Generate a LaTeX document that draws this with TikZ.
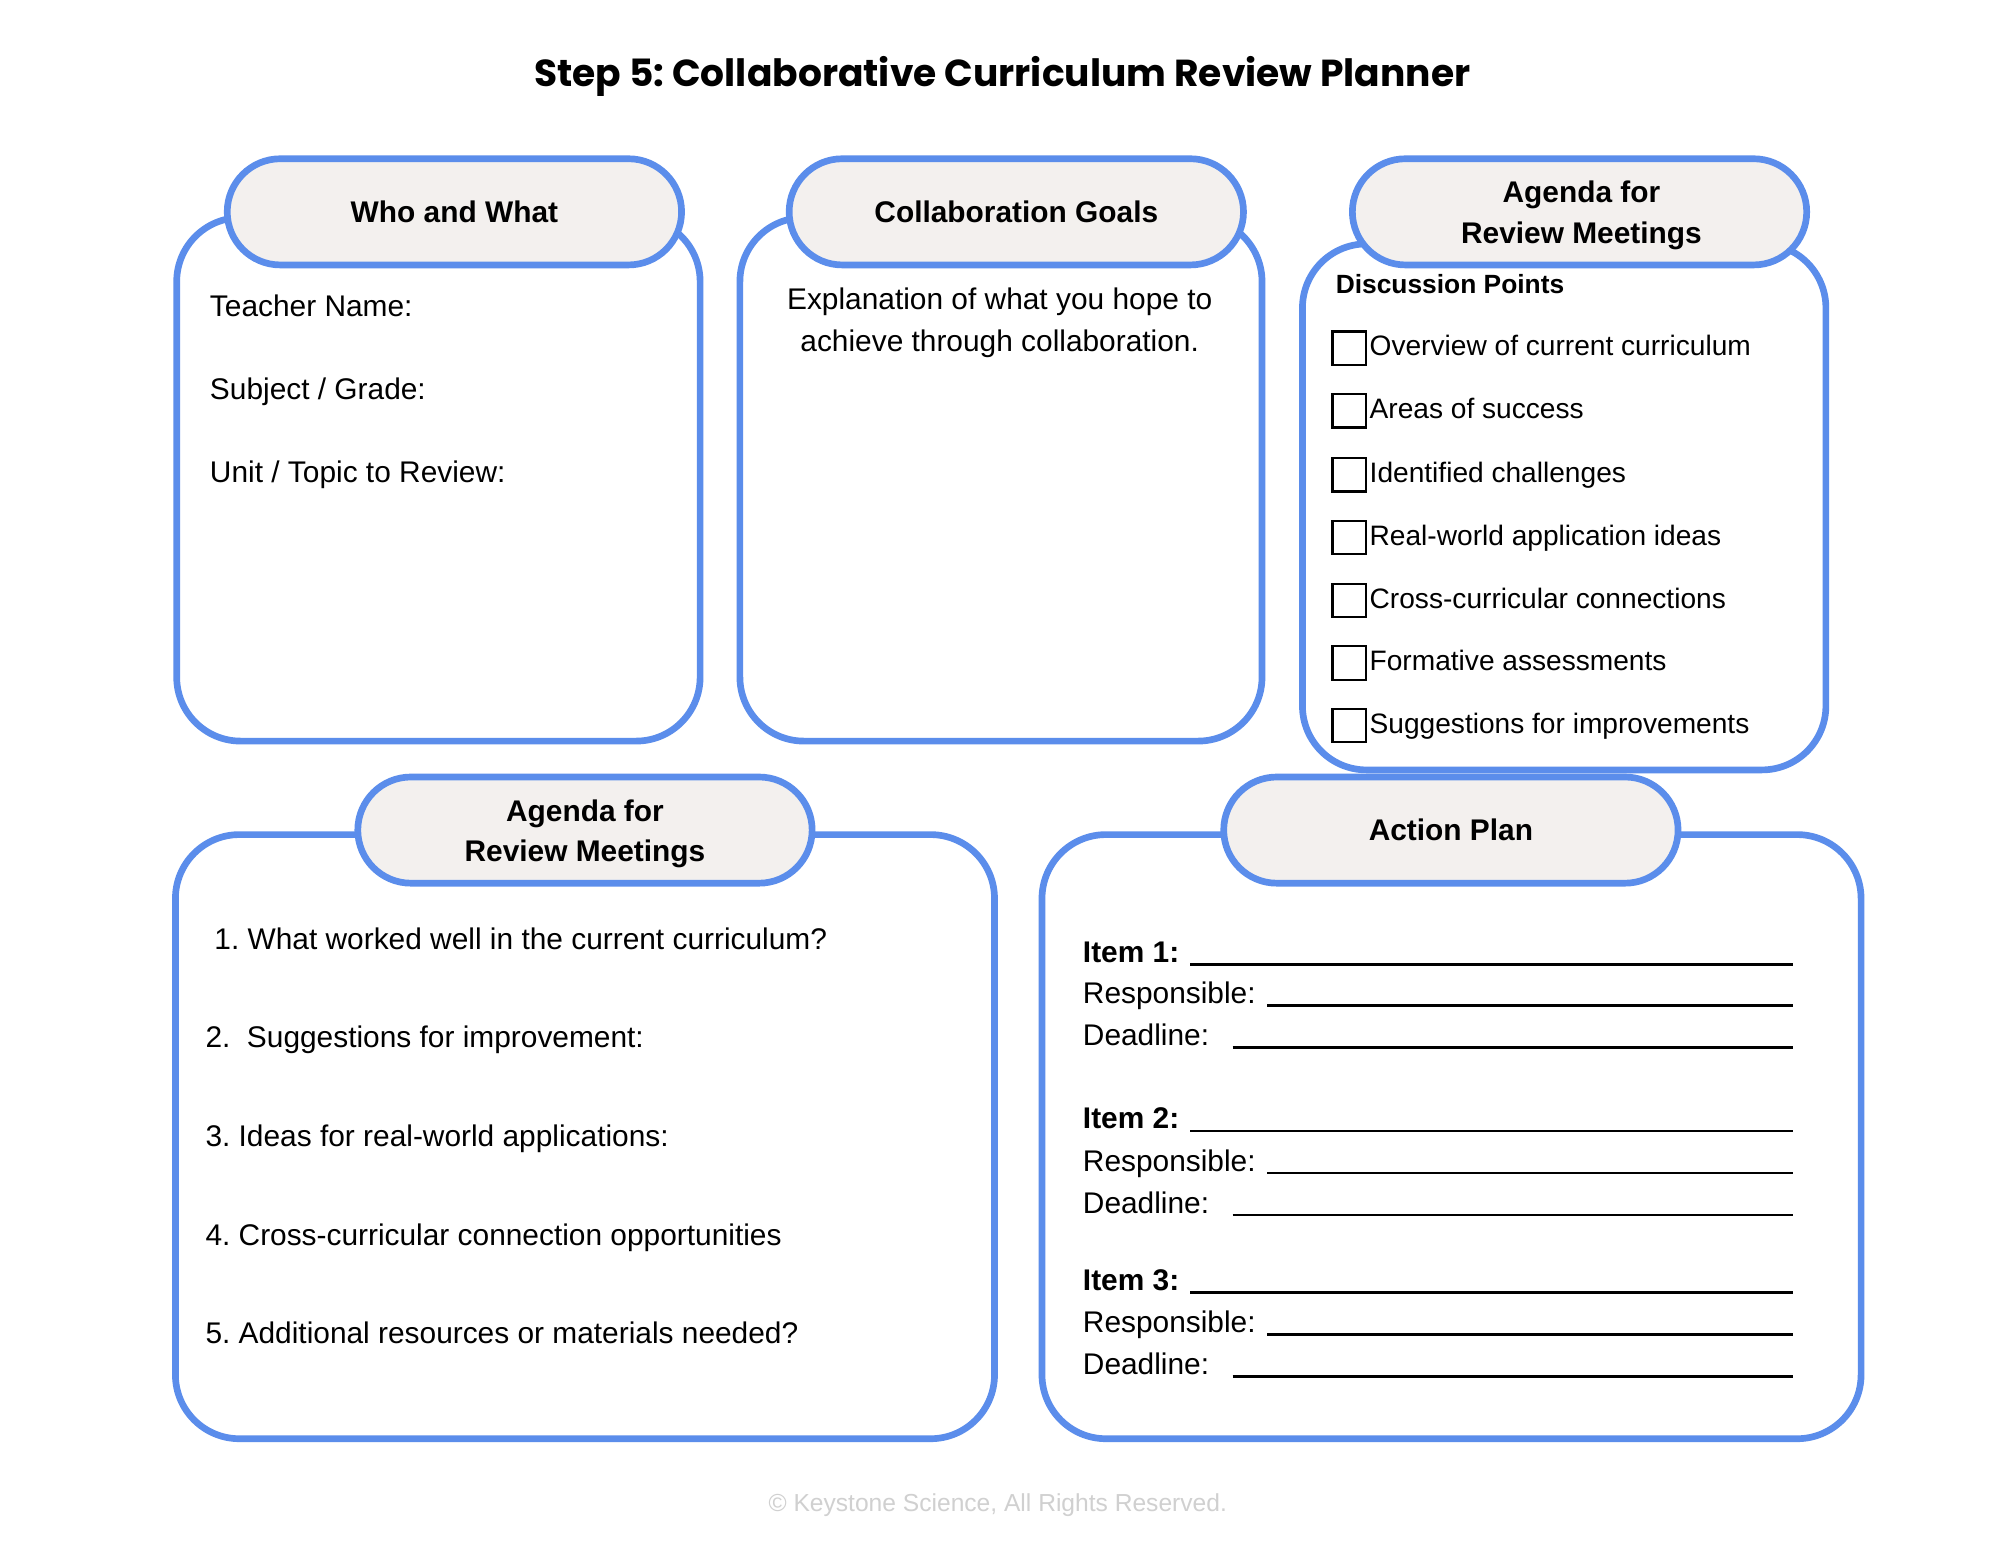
\documentclass[tikz,border=0pt]{standalone}
\usepackage{fontspec}
\setmainfont{Liberation Sans}
\newfontfamily\titlefont{Poppins}
\usepackage{tikz}
\usetikzlibrary{shapes.misc}
\definecolor{boxblue}{HTML}{5B8DEB}
\definecolor{headfill}{HTML}{F3F0EE}
\definecolor{footgray}{HTML}{D0D0D0}
\frenchspacing

\begin{document}
\begin{tikzpicture}[x=0.0128cm,y=-0.0128cm,
		box_style/.style={draw=boxblue,line width=1.9pt,fill=white,rounded corners=0.64cm,inner sep=0pt},
		head_style/.style={rounded rectangle,draw=boxblue,line width=1.9pt,fill=headfill,minimum width=4.544cm,minimum height=1.062cm,align=center,inner sep=0pt,font=\fontsize{8.5}{11.6}\selectfont\bfseries},
		head_text/.style={align=center,inner sep=0pt,font=\fontsize{8.5}{11.6}\selectfont\bfseries},
		text_style/.style={anchor=base west,inner sep=0pt,font=\fontsize{8.5}{10}\selectfont},
		item_style/.style={anchor=base west,inner sep=0pt,font=\fontsize{8}{10}\selectfont},
		check_style/.style={draw=black,line width=0.6pt,minimum size=0.333cm,inner sep=0pt},
		blank_style/.style={draw=black,line width=0.8pt}]

		\useasboundingbox[fill=white] (0,0) rectangle (1562.5,1207);

		\node[anchor=base,inner sep=0pt,font=\titlefont\fontsize{10.7}{12}\selectfont\bfseries] (title) at (783,67.7) {Step 5: Collaborative Curriculum Review Planner};

		% boxes
		\node[box_style,minimum width=5.235cm,minimum height=5.235cm] (who) at (342.5,374.5) {};
		\node[box_style,minimum width=5.222cm,minimum height=5.235cm] (goals) at (782,374.5) {};
		\node[box_style,minimum width=5.235cm,minimum height=5.261cm] (agendaA) at (1222,396) {};
		\node[box_style,minimum width=8.192cm,minimum height=6.042cm] (agendaB) at (457,888) {};
		\node[box_style,minimum width=8.192cm,minimum height=6.042cm] (action) at (1134,888) {};

		% headers
		\node[head_style] (who_h) at (355,165.5) {Who and What};
		\node[head_style] (goals_h) at (794,165.5) {Collaboration Goals};
		\node[head_style] (agendaA_h) at (1234,165.5) {};
		\node[head_text] (agendaA_t) at (1235.5,168) {Agenda for\\Review Meetings};
		\node[head_style] (agendaB_h) at (457,648.5) {};
		\node[head_text] (agendaB_t) at (457,651.5) {Agenda for\\Review Meetings};
		\node[head_style] (action_h) at (1133.5,648.5) {Action Plan};

		\node[text_style] (who1) at (163.5,247) {Teacher Name:};
		\node[text_style] (who2) at (163.5,312) {Subject / Grade:};
		\node[text_style] (who3) at (163.5,377) {Unit / Topic to Review:};

		\node[text_style,anchor=base] (goals1) at (781,242) {Explanation of what you hope to};
		\node[text_style,anchor=base] (goals2) at (781,274.8) {achieve through collaboration.};

		\node[text_style,font=\fontsize{7.5}{9}\selectfont\bfseries] (disc) at (1043,229) {Discussion Points};
		\node[check_style] (c1) at (1054,272) {};
		\node[check_style] (c2) at (1054,321) {};
		\node[check_style] (c3) at (1054,371) {};
		\node[check_style] (c4) at (1054,420) {};
		\node[check_style] (c5) at (1054,469) {};
		\node[check_style] (c6) at (1054,518) {};
		\node[check_style] (c7) at (1054,567) {};
		\node[item_style] (i1) at (1069.5,278) {Overview of current curriculum};
		\node[item_style] (i2) at (1069.5,327) {Areas of success};
		\node[item_style] (i3) at (1069.5,377) {Identified challenges};
		\node[item_style] (i4) at (1069.5,426) {Real-world application ideas};
		\node[item_style] (i5) at (1069.5,475) {Cross-curricular connections};
		\node[item_style] (i6) at (1069.5,524) {Formative assessments};
		\node[item_style] (i7) at (1069.5,573) {Suggestions for improvements};

		\node[text_style] (q1) at (167,742) {1. What worked well in the current curriculum?};
		\node[text_style] (q2) at (160,818.5) {2.\ \ Suggestions for improvement:};
		\node[text_style] (q3) at (160,896) {3. Ideas for real-world applications:};
		\node[text_style] (q4) at (160,973) {4. Cross-curricular connection opportunities};
		\node[text_style] (q5) at (160,1049.5) {5. Additional resources or materials needed?};

		\node[text_style,font=\fontsize{8.5}{10}\selectfont\bfseries] (a1) at (845.5,752) {Item 1:};
		\node[text_style] (a1r) at (845.5,784.2) {Responsible:};
		\node[text_style] (a1d) at (845.5,817) {Deadline:};
		\node[text_style,font=\fontsize{8.5}{10}\selectfont\bfseries] (a2) at (845.5,882) {Item 2:};
		\node[text_style] (a2r) at (845.5,915) {Responsible:};
		\node[text_style] (a2d) at (845.5,947.7) {Deadline:};
		\node[text_style,font=\fontsize{8.5}{10}\selectfont\bfseries] (a3) at (845.5,1008.5) {Item 3:};
		\node[text_style] (a3r) at (845.5,1041.2) {Responsible:};
		\node[text_style] (a3d) at (845.5,1074) {Deadline:};

		\draw[blank_style] (930,753.4) -- (1401,753.4);
		\draw[blank_style] (990,785.7) -- (1401,785.7);
		\draw[blank_style] (963,818.4) -- (1401,818.4);
		\draw[blank_style] (930,883.6) -- (1401,883.6);
		\draw[blank_style] (990,916.4) -- (1401,916.4);
		\draw[blank_style] (963,949.2) -- (1401,949.2);
		\draw[blank_style] (930,1010) -- (1401,1010);
		\draw[blank_style] (990,1042.7) -- (1401,1042.7);
		\draw[blank_style] (963,1075.6) -- (1401,1075.6);

		\node[anchor=base,inner sep=0pt,text=footgray,font=\fontsize{7}{8}\selectfont] (footer) at (779.5,1181) {© Keystone Science, All Rights Reserved.};

		\end{tikzpicture}
\end{document}
